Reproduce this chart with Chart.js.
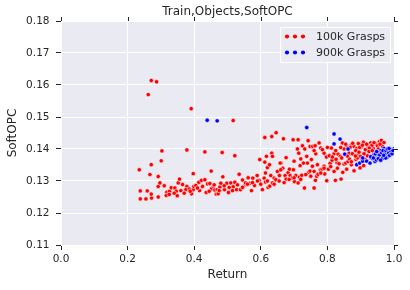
<!DOCTYPE html>
<html>
<head>
<meta charset="utf-8">
<script src="https://cdn.jsdelivr.net/npm/chart.js@4/dist/chart.umd.min.js"></script>
<style>
  html, body { margin: 0; padding: 0; background: #fff; }
  #wrap { width: 410px; height: 290px; }
</style>
</head>
<body>
<div id="wrap"><canvas id="grafico"></canvas></div>
<script>
// dati
var etichette = ['100k Grasps', '900k Grasps'];

var ritorno_100k = [
  0.271, 0.287, 0.262, 0.391, 0.517, 0.303, 0.271, 0.301, 0.235, 0.267, 0.292, 0.378, 0.432, 0.484, 0.522, 0.451, 0.397,
  0.612, 0.633, 0.646, 0.668, 0.697, 0.712,
  0.238, 0.255, 0.272, 0.292, 0.238, 0.259, 0.271, 0.292, 0.297, 0.310, 0.318, 0.316, 0.326, 0.331, 0.342, 0.346, 0.349,
  0.352, 0.356, 0.365, 0.378, 0.375, 0.385, 0.392, 0.397, 0.399, 0.405, 0.414, 0.416, 0.422, 0.432, 0.436, 0.440, 0.447,
  0.452, 0.458, 0.462, 0.466, 0.469, 0.472, 0.477, 0.480, 0.486, 0.491, 0.498, 0.503, 0.510, 0.517, 0.522, 0.527, 0.535,
  0.539, 0.545, 0.548, 0.554, 0.562, 0.567, 0.572, 0.576, 0.581, 0.589, 0.595, 0.605, 0.610, 0.614, 0.622, 0.627, 0.630,
  0.635, 0.640, 0.645, 0.650, 0.656, 0.661, 0.666, 0.673, 0.676, 0.682, 0.688, 0.693, 0.698, 0.701, 0.705, 0.712, 0.716,
  0.718, 0.720, 0.723, 0.731, 0.738, 0.740, 0.744, 0.748, 0.752, 0.755, 0.760, 0.764, 0.768, 0.772, 0.779, 0.784, 0.792,
  0.798, 0.803, 0.808, 0.814, 0.820, 0.824, 0.829, 0.835, 0.841, 0.846, 0.850, 0.855, 0.858, 0.862, 0.866, 0.872, 0.880,
  0.886, 0.892, 0.898, 0.902, 0.909, 0.914,
  0.597, 0.612, 0.617, 0.633, 0.620, 0.614, 0.635, 0.658, 0.676, 0.686, 0.660, 0.710, 0.714, 0.725, 0.732, 0.742, 0.748,
  0.756, 0.763, 0.765, 0.775, 0.780, 0.790, 0.797, 0.806, 0.812, 0.820, 0.832, 0.839, 0.845, 0.850, 0.858, 0.865, 0.872,
  0.880, 0.888, 0.893, 0.902, 0.908, 0.914, 0.922, 0.930, 0.938, 0.944, 0.950, 0.956, 0.962, 0.966,
  0.872, 0.890, 0.900, 0.920, 0.930, 0.940, 0.626, 0.700, 0.728, 0.770, 0.790,
  0.760, 0.785, 0.800, 0.825, 0.840, 0.855, 0.868, 0.876, 0.885, 0.897, 0.905, 0.918, 0.926, 0.934, 0.940, 0.953, 0.958, 0.970,
  0.815, 0.826, 0.843, 0.860, 0.875, 0.884, 0.895, 0.910, 0.925, 0.935,
  0.325, 0.340, 0.360, 0.370, 0.388, 0.410, 0.425, 0.445, 0.460, 0.475, 0.490, 0.505, 0.515, 0.530, 0.545, 0.560, 0.575,
  0.590, 0.600, 0.620, 0.640, 0.655, 0.670, 0.685, 0.700, 0.720, 0.735, 0.750, 0.760, 0.780, 0.790, 0.810, 0.830
];
var softopc_100k = [
  0.1614, 0.1610, 0.1570, 0.1526, 0.1489, 0.1394, 0.1351, 0.1363, 0.1335, 0.1320, 0.1314, 0.1397, 0.1391, 0.1389, 0.1379, 0.1331, 0.1323,
  0.1436, 0.1439, 0.1451, 0.1432, 0.1429, 0.1429,
  0.1244, 0.1244, 0.1247, 0.1250, 0.1269, 0.1269, 0.1259, 0.1283, 0.1294, 0.1285, 0.1265, 0.1255, 0.1268, 0.1279, 0.1278, 0.1268, 0.1254,
  0.1294, 0.1306, 0.1289, 0.1283, 0.1273, 0.1275, 0.1260, 0.1273, 0.1283, 0.1286, 0.1296, 0.1270, 0.1302, 0.1304, 0.1264, 0.1291, 0.1292,
  0.1276, 0.1283, 0.1272, 0.1259, 0.1273, 0.1260, 0.1281, 0.1293, 0.1313, 0.1273, 0.1293, 0.1264, 0.1294, 0.1282, 0.1296, 0.1273, 0.1321,
  0.1273, 0.1303, 0.1283, 0.1294, 0.1310, 0.1293, 0.1270, 0.1309, 0.1286, 0.1317, 0.1302, 0.1273, 0.1309, 0.1297, 0.1280, 0.1284, 0.1317,
  0.1294, 0.1309, 0.1304, 0.1330, 0.1317, 0.1356, 0.1340, 0.1317, 0.1306, 0.1326, 0.1317, 0.1309, 0.1335, 0.1298, 0.1317, 0.1294, 0.1312,
  0.1348, 0.1369, 0.1318, 0.1278, 0.1377, 0.1356, 0.1327, 0.1331, 0.1367, 0.1346, 0.1278, 0.1302, 0.1315, 0.1321, 0.1335, 0.1337, 0.1322,
  0.1301, 0.1337, 0.1355, 0.1365, 0.1330, 0.1302, 0.1357, 0.1354, 0.1306, 0.1327, 0.1353, 0.1356, 0.1337, 0.1361, 0.1369, 0.1351, 0.1332,
  0.1367, 0.1382, 0.1341, 0.1372, 0.1348, 0.1367,
  0.1367, 0.1359, 0.1377, 0.1387, 0.1342, 0.1325, 0.1377, 0.1356, 0.1373, 0.1337, 0.1335, 0.1400, 0.1387, 0.1410, 0.1400, 0.1426, 0.1408,
  0.1408, 0.1410, 0.1385, 0.1419, 0.1403, 0.1387, 0.1375, 0.1379, 0.1403, 0.1385, 0.1384, 0.1377, 0.1419, 0.1400, 0.1410, 0.1387, 0.1413,
  0.1408, 0.1402, 0.1417, 0.1406, 0.1421, 0.1398, 0.1408, 0.1419, 0.1401, 0.1417, 0.1410, 0.1423, 0.1427, 0.1408,
  0.1360, 0.1372, 0.1377, 0.1379, 0.1372, 0.1387, 0.1351, 0.1362, 0.1356, 0.1351, 0.1346,
  0.1395, 0.1398, 0.1405, 0.1395, 0.1405, 0.1415, 0.1405, 0.1418, 0.1395, 0.1405, 0.1412, 0.1415, 0.1403, 0.1412, 0.1420, 0.1400, 0.1415, 0.1420,
  0.1375, 0.1368, 0.1372, 0.1378, 0.1385, 0.1378, 0.1390, 0.1385, 0.1392, 0.1395,
  0.1258, 0.1262, 0.1270, 0.1262, 0.1268, 0.1278, 0.1283, 0.1268, 0.1288, 0.1270, 0.1285, 0.1280, 0.1270, 0.1288, 0.1280, 0.1290, 0.1295,
  0.1300, 0.1290, 0.1300, 0.1290, 0.1300, 0.1295, 0.1305, 0.1310, 0.1305, 0.1320, 0.1315, 0.1330, 0.1325, 0.1340, 0.1345, 0.1340
];

var ritorno_900k = [
  0.439, 0.469, 0.738, 0.820, 0.838, 0.820, 0.852, 0.862, 0.888, 0.897, 0.906, 0.906, 0.918, 0.928, 0.943, 0.955, 0.965,
  0.975, 0.998,
  0.935, 0.945, 0.950, 0.958, 0.962, 0.968, 0.972, 0.978, 0.982, 0.985, 0.990, 0.992, 0.960, 0.970, 0.947, 0.940, 0.953,
  0.965, 0.980, 0.995,
  0.930, 0.938, 0.944, 0.952, 0.957, 0.963, 0.967, 0.973, 0.976, 0.980, 0.984, 0.987, 0.990, 0.994, 0.997, 0.975, 0.960,
  0.985, 0.948, 0.969
];
var softopc_900k = [
  0.1490, 0.1488, 0.1467, 0.1447, 0.1431, 0.1416, 0.1384, 0.1400, 0.1351, 0.1356, 0.1362, 0.1372, 0.1362, 0.1356, 0.1361, 0.1387, 0.1392,
  0.1398, 0.1400,
  0.1370, 0.1378, 0.1383, 0.1375, 0.1380, 0.1386, 0.1378, 0.1390, 0.1383, 0.1395, 0.1388, 0.1398, 0.1395, 0.1402, 0.1366, 0.1382, 0.1370,
  0.1370, 0.1375, 0.1392,
  0.1376, 0.1372, 0.1385, 0.1390, 0.1382, 0.1388, 0.1395, 0.1385, 0.1395, 0.1400, 0.1388, 0.1380, 0.1395, 0.1385, 0.1395, 0.1372, 0.1365,
  0.1402, 0.1392, 0.1380
];

var tick_x = [0.0, 0.2, 0.4, 0.6, 0.8, 1.0];
var tick_y = [0.11, 0.12, 0.13, 0.14, 0.15, 0.16, 0.17, 0.18];

function punti(xs, ys) {
  var out = [];
  for (var i = 0; i < xs.length; i++) {
    out.push({x: xs[i], y: ys[i]});
  }
  return out;
}

var colore_testo = '#262626';
var font_base = 'DejaVu Sans';

// sfondo grigio della zona del grafico
var sfondo = {
  id: 'sfondo',
  beforeDraw: function(chart) {
    var a = chart.chartArea;
    var ctx = chart.ctx;
    ctx.save();
    ctx.fillStyle = '#EAEAF2';
    ctx.fillRect(a.left, a.top, a.right - a.left, a.bottom - a.top);
    ctx.restore();
  }
};

// tacche sui lati alto e destro (le stesse posizioni delle scale)
var tacche = {
  id: 'tacche',
  afterDraw: function(chart) {
    var a = chart.chartArea;
    var ctx = chart.ctx;
    ctx.save();
    ctx.strokeStyle = colore_testo;
    ctx.lineWidth = 1;
    ctx.beginPath();
    tick_x.forEach(function(v) {
      var px = Math.round(chart.scales.x.getPixelForValue(v)) + 0.5;
      ctx.moveTo(px, a.top - 4);
      ctx.lineTo(px, a.top);
    });
    tick_y.forEach(function(v) {
      var py = Math.round(chart.scales.y.getPixelForValue(v)) + 0.5;
      ctx.moveTo(a.right, py);
      ctx.lineTo(a.right + 4, py);
    });
    ctx.stroke();
    ctx.restore();
  }
};

// legenda disegnata dentro il grafico, in alto a destra
var legenda = {
  id: 'legenda',
  afterDatasetsDraw: function(chart) {
    var a = chart.chartArea;
    var ctx = chart.ctx;
    var w = 110, h = 35;
    var left = a.right - 4 - w;
    var top = a.top + 6;
    ctx.save();
    ctx.fillStyle = 'rgba(234,234,242,0.85)';
    ctx.strokeStyle = '#ffffff';
    ctx.lineWidth = 1;
    ctx.beginPath();
    ctx.rect(left + 0.5, top + 0.5, w, h);
    ctx.fill();
    ctx.stroke();
    ctx.font = '11px "' + font_base + '"';
    ctx.textBaseline = 'middle';
    chart.data.datasets.forEach(function(ds, i) {
      var cy = top + 9.5 + i * 16;
      [7, 15, 23].forEach(function(dx) {
        ctx.beginPath();
        ctx.arc(left + dx, cy, 2.1, 0, Math.PI * 2);
        ctx.fillStyle = ds.backgroundColor;
        ctx.fill();
      });
      ctx.fillStyle = colore_testo;
      ctx.fillText(ds.label, left + 36, cy + 0.5);
    });
    ctx.restore();
  }
};

var ctx = document.getElementById('grafico');
var chart = new Chart(ctx, {
  type: 'scatter',
  data: {
    datasets: [{
      label: etichette[0],
      data: punti(ritorno_100k, softopc_100k),
      backgroundColor: '#ff0000',
      borderColor: '#ffffff',
      borderWidth: 0.6,
      pointRadius: 2.2,
      order: 1
    }, {
      label: etichette[1],
      data: punti(ritorno_900k, softopc_900k),
      backgroundColor: '#0000ff',
      borderColor: '#ffffff',
      borderWidth: 0.6,
      pointRadius: 2.2,
      order: 0
    }]
  },
  options: {
    responsive: true,
    maintainAspectRatio: false,
    animation: false,
    layout: { padding: { left: 0, right: 16, top: 0, bottom: 0 } },
    plugins: {
      legend: { display: false },
      tooltip: { enabled: false },
      title: {
        display: true,
        fullSize: false,
        text: 'Train,Objects,SoftOPC',
        color: colore_testo,
        font: { family: font_base, size: 12, weight: 'normal' },
        padding: { top: 5, bottom: 1.6 }
      }
    },
    scales: {
      x: {
        type: 'linear',
        position: 'bottom',
        min: 0, max: 1,
        afterBuildTicks: function(s) { s.ticks = tick_x.map(function(v) { return {value: v}; }); },
        afterFit: function(s) { s.height = 45; },
        grid: { color: '#ffffff', lineWidth: 1, tickColor: colore_testo, tickLength: 5 },
        border: { display: false },
        ticks: {
          color: colore_testo, padding: 3, maxRotation: 0,
          font: { family: font_base, size: 10.5 },
          callback: function(v) { return Number(v).toFixed(1); }
        },
        title: {
          display: true, text: 'Return', color: colore_testo,
          font: { family: font_base, size: 12 },
          padding: { top: 0, bottom: 8 }
        }
      },
      y: {
        type: 'linear',
        position: 'left',
        min: 0.11, max: 0.18,
        afterBuildTicks: function(s) { s.ticks = tick_y.map(function(v) { return {value: v}; }); },
        afterFit: function(s) { s.width = 61; },
        grid: { color: '#ffffff', lineWidth: 1, tickColor: colore_testo, tickLength: 5 },
        border: { display: false },
        ticks: {
          color: colore_testo, padding: 6.5,
          font: { family: font_base, size: 10.5 },
          callback: function(v) { return Number(v).toFixed(2); }
        },
        title: {
          display: true, text: 'SoftOPC', color: colore_testo,
          font: { family: font_base, size: 12 },
          padding: { top: 6, bottom: 0 }
        }
      }
    }
  },
  plugins: [sfondo, tacche, legenda]
});
</script>
</body>
</html>
